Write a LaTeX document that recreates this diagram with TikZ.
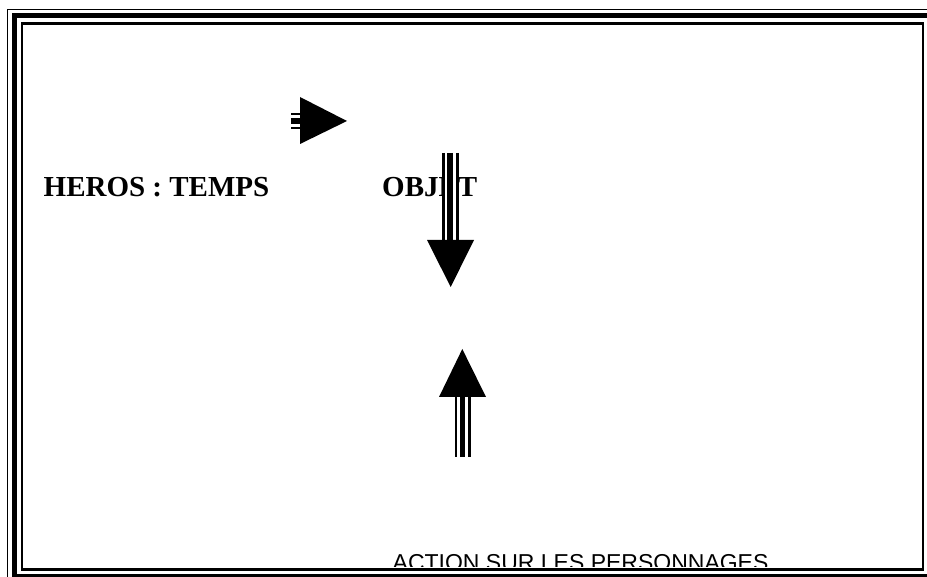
\documentclass[tikz,border=0pt]{standalone}
\usepackage{fontspec}
\setmainfont{Liberation Serif}
\newfontfamily\labelsans{Liberation Sans}
\usepackage{tikz}
\tikzset{
    titletext/.style={font=\fontsize{29}{29}\selectfont\bfseries, inner sep=0pt, anchor=base west},
    footertext/.style={font=\labelsans\fontsize{23}{23}\selectfont, inner sep=0pt, anchor=base west},
    framethin/.style={line width=1.8pt},
    framethick/.style={line width=5pt},
    framein/.style={line width=2.5pt},
    arrowhead/.style={fill=black},
    shaftbar/.style={line width=2.8pt},
    shaftcore/.style={line width=5.6pt},
    shaftback/.style={fill=white}
}

\begin{document}
\begin{tikzpicture}[x=1pt, y=-1pt]
    \useasboundingbox (0,0) rectangle (927,577);
    \clip (0,0) rectangle (927,577);

    % triple frame
    \draw[framethin] (7.5,9.5) rectangle (945,595);
    \draw[framethick] (14.3,16) rectangle (931,576);
    \draw[framein] (22,23.5) rectangle (923,569.5);

    % labels
    \node[titletext] (heros) at (43.5,197) {HEROS : TEMPS};
    \node[titletext] (objet) at (382,197) {OBJET};
    \begin{scope}
        \clip (25,25) rectangle (920,566);
        \node[footertext] (action) at (392.5,570.5) {ACTION SUR LES PERSONNAGES};
    \end{scope}

    % right arrow
    \coordinate (rtip) at (347,121);
    \draw[shaftbar] (291,114) -- (301,114);
    \draw[shaftcore] (291,121) -- (301,121);
    \draw[shaftbar] (291,128) -- (301,128);
    \fill[arrowhead] (300,97) -- (rtip) -- (300,144) -- cycle;

    % down arrow
    \coordinate (dtip) at (450.7,287);
    \fill[shaftback] (442,153) rectangle (459,241);
    \draw[shaftbar] (443.8,153) -- (443.8,241);
    \draw[shaftcore] (450.1,153) -- (450.1,241);
    \draw[shaftbar] (457.2,153) -- (457.2,241);
    \fill[arrowhead] (427,240) -- (474,240) -- (dtip) -- cycle;

    % up arrow
    \coordinate (utip) at (462.3,349);
    \draw[shaftbar] (456,396) -- (456,457);
    \draw[shaftcore] (462.5,396) -- (462.5,457);
    \draw[shaftbar] (469.5,396) -- (469.5,457);
    \fill[arrowhead] (439,397) -- (486,397) -- (utip) -- cycle;
\end{tikzpicture}
\end{document}
